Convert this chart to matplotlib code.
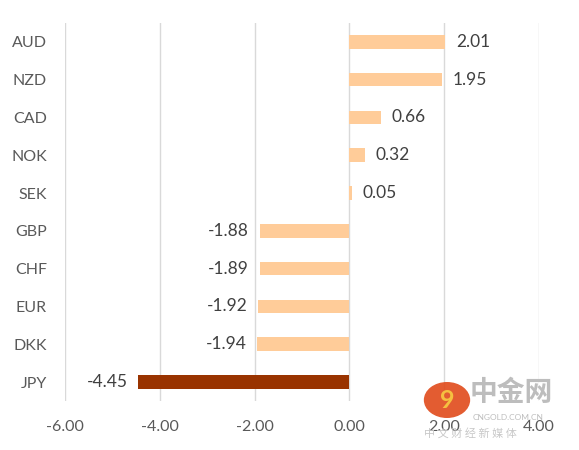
import numpy as np
import matplotlib.pyplot as plt
from matplotlib.patches import Circle

currencies = ["AUD", "NZD", "CAD", "NOK", "SEK", "GBP", "CHF", "EUR", "DKK", "JPY"]
values = [2.01, 1.95, 0.66, 0.32, 0.05, -1.88, -1.89, -1.92, -1.94, -4.45]
xticks = [-6, -4, -2, 0, 2, 4]

plt.rcParams['font.family'] = ['Lato', 'DejaVu Sans']
txt = "#595959"

fig = plt.figure(figsize=(5.79, 4.5), dpi=100)
ax = fig.add_axes([0.1123, 0.1089, 0.8187, 0.84])

y = np.arange(len(currencies))
colors = ["#993300" if c == "JPY" else "#FFCC99" for c in currencies]
ax.barh(y, values, height=0.36, color=colors, zorder=3)

for yi, v in zip(y, values):
    if v >= 0:
        ax.annotate(f"{v:.2f}", (v, yi), xytext=(8, 0), textcoords="offset points",
                    ha="left", va="center", fontsize=12.5, color="#404040")
    else:
        ax.annotate(f"{v:.2f}", (v, yi), xytext=(-8, 0), textcoords="offset points",
                    ha="right", va="center", fontsize=12.5, color="#404040")

ax.set_xlim(-6, 4)
ax.set_ylim(len(currencies) - 0.5, -0.5)
ax.set_xticks(xticks)
ax.set_xticklabels([f"{t:.2f}" for t in xticks])
ax.set_yticks(y)
ax.set_yticklabels(currencies)
ax.tick_params(axis="both", length=0, labelsize=11.5, labelcolor=txt)
ax.tick_params(axis="x", pad=14)
ax.tick_params(axis="y", pad=13)
ax.grid(axis="x", color="#D9D9D9", linewidth=1, zorder=0)
for s in ax.spines.values():
    s.set_visible(False)

# watermark
fig.add_artist(Circle((447 / 579, 1 - 400 / 450), 0.04, transform=fig.transFigure,
                      facecolor="#E04A1A", edgecolor="none", alpha=0.9, zorder=5))
fig.text(447 / 579, 1 - 400 / 450, "9", ha="center", va="center", fontsize=18,
         color="#F5C040", fontweight="bold", zorder=6)
fig.text(470 / 579, 1 - 393 / 450, "中金网", ha="left", va="center", fontsize=20,
         color="#BDBDBD", family=["Noto Sans CJK SC", "DejaVu Sans"], fontweight="bold", zorder=6)
fig.text(473 / 579, 1 - 418 / 450, "CNGOLD.COM.CN", ha="left", va="center", fontsize=6,
         color="#BDBDBD", zorder=6)
fig.text(424 / 579, 1 - 433 / 450, "中 文 财 经 新 媒 体", ha="left", va="center", fontsize=8,
         color="#C8C8C8", family=["Noto Sans CJK SC", "DejaVu Sans"], zorder=6)

fig.savefig("out.png", dpi=100, facecolor="white")
